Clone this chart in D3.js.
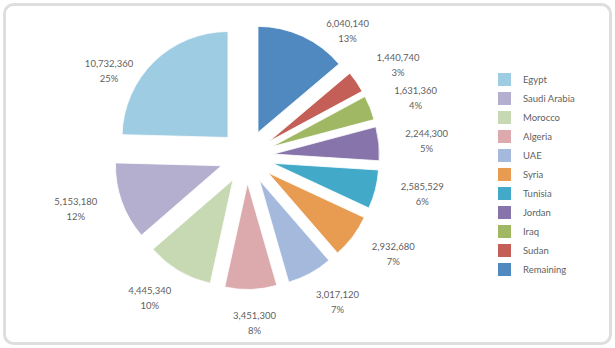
<!DOCTYPE html>
<html>
<head>
<meta charset="utf-8">
<script src="https://cdn.jsdelivr.net/npm/d3@7"></script>
<style>
  html, body { margin: 0; padding: 0; background: #ffffff; }
  svg { display: block; }
  text { font-family: Lato, "Open Sans", sans-serif; fill: #5f5f5f; }
</style>
</head>
<body>
<svg id="chart" width="615" height="348"></svg>
<script>
// ---- data (legend order) ----
const categories = ["Egypt", "Saudi Arabia", "Morocco", "Algeria", "UAE", "Syria", "Tunisia", "Jordan", "Iraq", "Sudan", "Remaining"];
const values = [10732360, 5153180, 4445340, 3451300, 3017120, 2932680, 2585529, 2244300, 1631360, 1440740, 6040140];
const percentLabels = ["25%", "12%", "10%", "8%", "7%", "7%", "6%", "5%", "4%", "3%", "13%"];
const colors = ["#9ecde3", "#b5afcf", "#c6d9b2", "#dca9ac", "#a4b9dc", "#e89c52", "#42aac8", "#8674aa", "#a0b864", "#c45f58", "#4f89bf"];

const svg = d3.select("#chart");

// frame
svg.append("rect")
  .attr("x", 4.5).attr("y", 4.5)
  .attr("width", 606).attr("height", 339)
  .attr("rx", 9).attr("ry", 9)
  .attr("fill", "#ffffff")
  .attr("stroke", "#dedede")
  .attr("stroke-width", 3);

const cx = 246.7, cy = 156.7, radius = 106, explode = 26.8;

const items = categories.map((c, i) => ({ name: c, value: values[i], pct: percentLabels[i], color: colors[i], idx: i }));
// drawn clockwise from 12 o'clock in reverse legend order
const pie = d3.pie().sort(null).value(d => d.value).startAngle(0).endAngle(2 * Math.PI);
const arcs = pie(items.slice().reverse());

const arc = d3.arc().innerRadius(0).outerRadius(radius);
const g = svg.append("g").attr("transform", `translate(${cx},${cy})`);

const fmt = d3.format(",");
const spow = (v, p) => Math.sign(v) * Math.pow(Math.abs(v), p);

arcs.forEach(a => {
  const b = (a.startAngle + a.endAngle) / 2;
  const ux = Math.sin(b), uy = -Math.cos(b);
  g.append("path")
    .attr("d", arc(a))
    .attr("transform", `translate(${ux * explode},${uy * explode})`)
    .attr("fill", a.data.color)
    .attr("stroke", "#ffffff")
    .attr("stroke-width", 0.8);

  // label placement
  const px = ux * (radius + explode), py = uy * (radius + explode);
  let lx, ly;
  if (-uy > 0.65) {           // near the top: put label beside the slice
    lx = px + Math.sign(ux) * 45;
    ly = py + 78 * (uy + 0.84);
  } else {
    lx = px + 48 * spow(ux, 0.75);
    ly = py + 34 * spow(uy, 1.3);
  }
  const t = g.append("text")
    .attr("text-anchor", "middle")
    .attr("font-size", 9.5);
  t.append("tspan").attr("x", lx).attr("y", ly - 4.5).text(fmt(a.data.value));
  t.append("tspan").attr("x", lx).attr("y", ly + 10.5).text(a.data.pct);
});

// legend
const legend = svg.append("g").attr("transform", "translate(498,73)");
const rowY = d3.scalePoint().domain(categories).range([0, 190]);
categories.forEach((c, i) => {
  const row = legend.append("g").attr("transform", `translate(0,${rowY(c)})`);
  row.append("rect").attr("width", 13).attr("height", 13).attr("fill", colors[i]);
  row.append("text").attr("x", 25).attr("y", 10).attr("font-size", 9.5).text(c);
});
</script>
</body>
</html>
